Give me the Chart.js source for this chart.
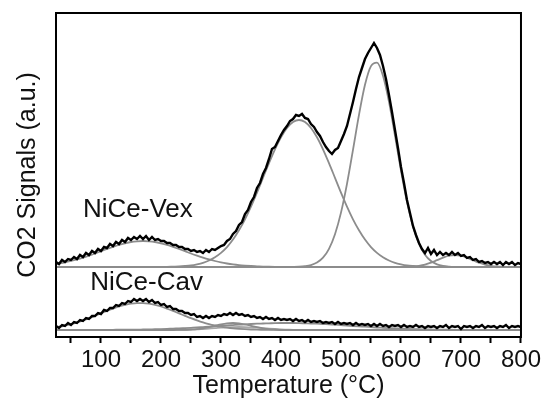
<!DOCTYPE html>
<html>
<head>
<meta charset="utf-8">
<script src="https://cdn.jsdelivr.net/npm/chart.js"></script>
<style>
  body { margin: 0; background: #fff; }
  #wrap { width: 544px; height: 404px; }
</style>
</head>
<body>
<div id="wrap"><canvas id="tpd" width="544" height="404"></canvas></div>
<script>
// CO2-TPD profiles (arbitrary units)
const vexOffset = 70;
const cavOffset = 7;

// measured signal, every 5 °C
const tempsFine = [
  25, 30, 35, 40, 45, 50, 55, 60, 65, 70, 75, 80, 85, 90, 95,
  100, 105, 110, 115, 120, 125, 130, 135, 140, 145, 150, 155, 160, 165, 170, 175, 180, 185, 190, 195,
  200, 205, 210, 215, 220, 225, 230, 235, 240, 245, 250, 255, 260, 265, 270, 275, 280, 285, 290, 295,
  300, 305, 310, 315, 320, 325, 330, 335, 340, 345, 350, 355, 360, 365, 370, 375, 380, 385, 390, 395,
  400, 405, 410, 415, 420, 425, 430, 435, 440, 445, 450, 455, 460, 465, 470, 475, 480, 485, 490, 495,
  500, 505, 510, 515, 520, 525, 530, 535, 540, 545, 550, 555, 560, 565, 570, 575, 580, 585, 590, 595,
  600, 605, 610, 615, 620, 625, 630, 635, 640, 645, 650, 655, 660, 665, 670, 675, 680, 685, 690, 695,
  700, 705, 710, 715, 720, 725, 730, 735, 740, 745, 750, 755, 760, 765, 770, 775, 780, 785, 790, 795,
  800
];
const vexMeasured = [
  5, 3, 7, 5, 8, 7, 10, 8, 12, 10, 14, 12, 16, 14, 18,
  16, 20, 19, 23, 21, 25, 23, 27, 25, 29, 27, 30, 28, 31, 28, 31, 27, 30, 27, 28,
  26, 26, 24, 24, 22, 22, 20, 20, 18, 18, 16, 17, 15, 16, 14, 17, 15, 18, 17, 19,
  21, 22, 26, 28, 33, 36, 42, 45, 53, 57, 65, 70, 79, 84, 93, 99, 108, 118, 120, 126,
  132, 137, 141, 146, 148, 152, 151, 153, 149, 148, 143, 140, 135, 131, 125, 120, 116, 113, 117, 119,
  126, 133, 141, 153, 165, 178, 190, 199, 208, 214, 219, 224, 219, 212, 201, 188, 172, 155, 137, 119,
  100, 84, 67, 54, 41, 32, 24, 18, 14, 19, 13, 17, 12, 15, 12, 14, 12, 15, 12, 14,
  11, 12, 9, 10, 7, 8, 5, 6, 4, 5, 3, 5, 3, 5, 2, 5, 3, 5, 2, 4,
  3
];
const cavMeasured = [
  4, 2, 5, 4, 7, 5, 8, 7, 10, 9, 12, 11, 14, 14, 17,
  16, 20, 19, 22, 22, 25, 24, 27, 26, 29, 28, 31, 29, 31, 29, 31, 28, 30, 27, 28,
  25, 26, 23, 24, 21, 21, 19, 19, 17, 17, 15, 16, 13, 14, 12, 14, 12, 14, 13, 15,
  14, 16, 15, 17, 15, 17, 15, 16, 14, 15, 13, 14, 12, 13, 11, 13, 11, 12, 10, 12,
  10, 11, 10, 11, 9, 11, 9, 10, 8, 10, 8, 9, 8, 9, 7, 8, 7, 8, 6, 8,
  6, 7, 6, 7, 5, 7, 5, 6, 5, 6, 4, 6, 4, 6, 4, 5, 3, 5, 4, 5,
  3, 5, 3, 4, 3, 5, 3, 4, 2, 4, 3, 4, 2, 4, 3, 5, 2, 4, 3, 4,
  1, 4, 3, 4, 2, 4, 3, 5, 2, 4, 3, 4, 2, 4, 3, 5, 2, 4, 3, 4,
  3
];

// fitted peaks, every 10 °C
const temps = [
  25, 30, 40, 50, 60, 70, 80, 90,
  100, 110, 120, 130, 140, 150, 160, 170, 180, 190,
  200, 210, 220, 230, 240, 250, 260, 270, 280, 290,
  300, 310, 320, 330, 340, 350, 360, 370, 380, 390,
  400, 410, 420, 430, 440, 450, 460, 470, 480, 490,
  500, 510, 520, 530, 540, 550, 560, 570, 580, 590,
  600, 610, 620, 630, 640, 650, 660, 670, 680, 690,
  700, 710, 720, 730, 740, 750, 760, 770, 780, 790,
  800
];
const vexPeak1 = [
  3.0, 3.5, 4.6, 6.0, 7.6, 9.4, 11.4, 13.5,
  15.8, 18.0, 20.1, 22.1, 23.7, 25.0, 25.7, 26.0, 25.7, 25.0,
  23.7, 22.1, 20.1, 18.0, 15.8, 13.5, 11.4, 9.4, 7.6, 6.0,
  4.6, 3.5, 2.6, 1.9, 1.4, 1.0, 0.7, 0.4, 0.3, 0.2,
  0.1, 0, 0, 0, 0, 0, 0, 0, 0, 0,
  0, 0, 0, 0, 0, 0, 0, 0, 0, 0,
  0, 0, 0, 0, 0, 0, 0, 0, 0, 0,
  0, 0, 0, 0, 0, 0, 0, 0, 0, 0,
  0
];
const vexPeak2 = [
  0, 0, 0, 0, 0, 0, 0, 0,
  0, 0, 0, 0, 0, 0, 0, 0, 0, 0,
  0.1, 0.2, 0.4, 0.6, 1.0, 1.6, 2.7, 4.2, 6.5, 9.7,
  14.1, 19.9, 27.4, 36.7, 47.7, 60.4, 74.4, 89.2, 103.9, 117.7,
  129.7, 139.0, 145.0, 147.0, 145.0, 139.0, 129.7, 117.7, 103.9, 89.2,
  74.4, 60.4, 47.7, 36.7, 27.4, 19.9, 14.1, 9.7, 6.5, 4.2,
  2.7, 1.6, 1.0, 0.6, 0.4, 0.2, 0.1, 0, 0, 0,
  0, 0, 0, 0, 0, 0, 0, 0, 0, 0,
  0
];
const vexPeak3 = [
  0, 0, 0, 0, 0, 0, 0, 0,
  0, 0, 0, 0, 0, 0, 0, 0, 0, 0,
  0, 0, 0, 0, 0, 0, 0, 0, 0, 0,
  0, 0, 0, 0, 0, 0, 0, 0, 0, 0,
  0, 0, 0.1, 0.3, 0.8, 1.9, 4.4, 9.3, 18.2, 32.8,
  54.4, 83.2, 117.2, 152.2, 182.2, 200.9, 204.3, 191.3, 165.2, 131.4,
  96.4, 65.1, 40.6, 23.3, 12.3, 6.0, 2.7, 1.1, 0.4, 0.1,
  0, 0, 0, 0, 0, 0, 0, 0, 0, 0,
  0
];
const vexPeak4 = [
  0, 0, 0, 0, 0, 0, 0, 0,
  0, 0, 0, 0, 0, 0, 0, 0, 0, 0,
  0, 0, 0, 0, 0, 0, 0, 0, 0, 0,
  0, 0, 0, 0, 0, 0, 0, 0, 0, 0,
  0, 0, 0, 0, 0, 0, 0, 0, 0, 0,
  0, 0, 0, 0, 0, 0, 0, 0, 0, 0,
  0.1, 0.2, 0.5, 1.2, 2.4, 4.3, 6.8, 9.3, 11.3, 12.0,
  11.3, 9.3, 6.8, 4.3, 2.4, 1.2, 0.5, 0.2, 0.1, 0,
  0
];
const cavPeak1 = [
  2.8, 3.3, 4.5, 5.9, 7.6, 9.6, 11.8, 14.2,
  16.6, 19.1, 21.4, 23.5, 25.1, 26.3, 26.9, 26.9, 26.3, 25.1,
  23.5, 21.4, 19.1, 16.6, 14.2, 11.8, 9.6, 7.6, 5.9, 4.5,
  3.3, 2.4, 1.7, 1.2, 0.8, 0.5, 0.3, 0.2, 0.1, 0.1,
  0, 0, 0, 0, 0, 0, 0, 0, 0, 0,
  0, 0, 0, 0, 0, 0, 0, 0, 0, 0,
  0, 0, 0, 0, 0, 0, 0, 0, 0, 0,
  0, 0, 0, 0, 0, 0, 0, 0, 0, 0,
  0
];
const cavPeak2 = [
  0, 0, 0, 0, 0, 0, 0, 0,
  0, 0, 0, 0, 0, 0, 0, 0, 0, 0,
  0, 0, 0, 0.1, 0.2, 0.5, 0.9, 1.7, 2.9, 4.2,
  5.6, 6.6, 7.0, 6.6, 5.6, 4.2, 2.9, 1.7, 0.9, 0.5,
  0.2, 0.1, 0, 0, 0, 0, 0, 0, 0, 0,
  0, 0, 0, 0, 0, 0, 0, 0, 0, 0,
  0, 0, 0, 0, 0, 0, 0, 0, 0, 0,
  0, 0, 0, 0, 0, 0, 0, 0, 0, 0,
  0
];
const cavPeak3 = [
  0, 0, 0, 0, 0, 0, 0, 0,
  0, 0, 0, 0, 0, 0, 0, 0, 0, 0,
  0, 0, 0.1, 0.1, 0.2, 0.4, 0.6, 1.0, 1.4, 1.8,
  2.3, 2.6, 2.9, 3.0, 2.9, 2.6, 2.3, 1.8, 1.4, 1.0,
  0.6, 0.4, 0.2, 0.1, 0.1, 0, 0, 0, 0, 0,
  0, 0, 0, 0, 0, 0, 0, 0, 0, 0,
  0, 0, 0, 0, 0, 0, 0, 0, 0, 0,
  0, 0, 0, 0, 0, 0, 0, 0, 0, 0,
  0
];
const cavPeak4 = [
  0, 0, 0, 0, 0, 0, 0.1, 0.1,
  0.1, 0.2, 0.2, 0.3, 0.3, 0.4, 0.4, 0.5, 0.6, 0.8,
  0.9, 1.1, 1.4, 1.6, 1.9, 2.2, 2.5, 2.9, 3.3, 3.6,
  4.0, 4.5, 4.9, 5.3, 5.6, 6.0, 6.3, 6.5, 6.7, 6.9,
  7.0, 7.0, 7.0, 6.9, 6.7, 6.5, 6.3, 6.0, 5.6, 5.3,
  4.9, 4.5, 4.0, 3.6, 3.3, 2.9, 2.5, 2.2, 1.9, 1.6,
  1.4, 1.1, 0.9, 0.8, 0.6, 0.5, 0.4, 0.4, 0.3, 0.2,
  0.2, 0.1, 0.1, 0.1, 0.1, 0, 0, 0, 0, 0,
  0
];

const xTicks = [50, 100, 150, 200, 250, 300, 350, 400, 450, 500, 550, 600, 650, 700, 750, 800];
const sampleNames = ['NiCe-Vex', 'NiCe-Cav'];
const namePos = [[70, 120], [82, 47]];   // [temperature, signal] of text baseline-left

const FONT = '"Liberation Sans", Arial, sans-serif';

function points(xs, ys, offset) {
  return xs.map((x, i) => ({ x: x, y: ys[i] + offset }));
}

function measured(ys, offset) {
  return {
    data: points(tempsFine, ys, offset),
    borderColor: '#000', borderWidth: 2.4, pointRadius: 0, tension: 0, order: 0
  };
}

function fitted(ys, offset, color) {
  return {
    data: points(temps, ys, offset),
    borderColor: color || '#8c8c8c', borderWidth: 1.8, pointRadius: 0,
    cubicInterpolationMode: 'monotone', order: 1
  };
}

const frameAndNames = {
  id: 'frameAndNames',
  afterDraw(chart) {
    const { ctx, chartArea: a, scales } = chart;
    ctx.save();
    ctx.strokeStyle = '#000';
    ctx.lineWidth = 2;
    ctx.strokeRect(a.left, a.top, a.right - a.left, a.bottom - a.top);
    ctx.fillStyle = '#111';
    ctx.font = '26px ' + FONT;
    ctx.textBaseline = 'alphabetic';
    ctx.textAlign = 'left';
    sampleNames.forEach((name, i) => {
      ctx.fillText(name, scales.x.getPixelForValue(namePos[i][0]), scales.y.getPixelForValue(namePos[i][1]));
    });
    ctx.restore();
  }
};

new Chart(document.getElementById('tpd'), {
  type: 'line',
  data: {
    datasets: [
      measured(vexMeasured, vexOffset),
      measured(cavMeasured, cavOffset),
      fitted(vexPeak1, vexOffset),
      fitted(vexPeak2, vexOffset),
      fitted(vexPeak3, vexOffset),
      fitted(vexPeak4, vexOffset),
      fitted(cavPeak1, cavOffset),
      fitted(cavPeak2, cavOffset),
      fitted(cavPeak3, cavOffset, '#a8a8a8'),
      fitted(cavPeak4, cavOffset)
    ]
  },
  options: {
    responsive: false,
    animation: false,
    layout: { padding: { left: 0, right: 23, top: 13, bottom: 0 } },
    plugins: { legend: { display: false }, tooltip: { enabled: false } },
    scales: {
      x: {
        type: 'linear', min: 25, max: 800,
        afterBuildTicks: s => { s.ticks = xTicks.map(v => ({ value: v })); },
        afterFit: s => { s.height = 67; },
        ticks: {
          autoSkip: false, maxRotation: 0, padding: 3, color: '#111',
          font: { family: FONT, size: 24 },
          callback: v => (v % 100 === 0 ? v : '')
        },
        grid: { drawOnChartArea: false, drawTicks: true, tickLength: 6, tickWidth: 2, tickColor: '#000' },
        border: { color: '#000', width: 2 },
        title: {
          display: true, text: 'Temperature (°C)', color: '#111',
          font: { family: FONT, size: 25 }, padding: { top: 0, bottom: 3 }
        }
      },
      y: {
        min: 0, max: 324,
        afterFit: s => { s.width = 56; },
        ticks: { display: false },
        grid: { drawOnChartArea: false, drawTicks: false },
        border: { color: '#000', width: 2 },
        title: {
          display: true, text: 'CO2 Signals (a.u.)', color: '#111',
          font: { family: FONT, size: 25 }, padding: { top: 13, bottom: 0 }
        }
      }
    }
  },
  plugins: [frameAndNames]
});
</script>
</body>
</html>
